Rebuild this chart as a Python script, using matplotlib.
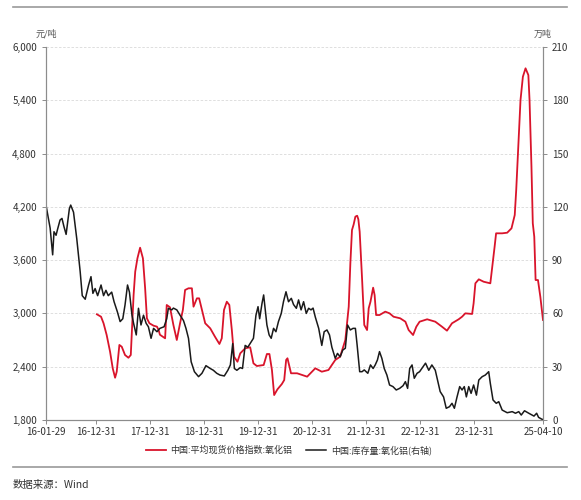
import numpy as np
import pandas as pd
import matplotlib
matplotlib.use("Agg")
from matplotlib import pyplot as plt
import matplotlib.dates as mdates

plt.rcParams['font.family'] = ['Noto Sans CJK SC', 'DejaVu Sans']

# 中国:库存量:氧化铝 (万吨, right axis)
stock_dates = [
    "2016-01-29", "2016-02-26", "2016-03-14", "2016-03-23", "2016-04-06", "2016-04-15",
    "2016-05-03", "2016-05-16", "2016-05-29", "2016-06-13", "2016-07-05", "2016-07-14",
    "2016-08-02", "2016-08-24", "2016-09-16", "2016-09-30", "2016-10-20", "2016-11-12",
    "2016-11-28", "2016-12-11", "2016-12-26", "2017-01-12", "2017-02-04", "2017-02-21",
    "2017-03-09", "2017-03-25", "2017-04-17", "2017-05-03", "2017-05-25", "2017-06-13",
    "2017-07-01", "2017-07-16", "2017-08-02", "2017-08-15", "2017-09-01", "2017-09-12",
    "2017-09-30", "2017-10-15", "2017-11-01", "2017-11-18", "2017-12-06", "2017-12-21",
    "2018-01-08", "2018-01-25", "2018-02-17", "2018-03-09", "2018-04-06", "2018-04-24",
    "2018-05-05", "2018-05-28", "2018-06-08", "2018-07-01", "2018-07-23", "2018-08-15",
    "2018-09-01", "2018-09-18", "2018-10-06", "2018-10-28", "2018-11-25", "2018-12-18",
    "2019-01-14", "2019-02-12", "2019-03-05", "2019-03-28", "2019-04-19", "2019-05-18",
    "2019-06-11", "2019-06-28", "2019-07-14", "2019-07-25", "2019-08-11", "2019-09-03",
    "2019-09-18", "2019-10-06", "2019-10-24", "2019-11-16", "2019-12-01", "2019-12-18",
    "2020-01-01", "2020-01-12", "2020-01-28", "2020-02-08", "2020-02-19", "2020-03-01",
    "2020-03-16", "2020-03-30", "2020-04-15", "2020-05-01", "2020-05-18", "2020-06-06",
    "2020-06-21", "2020-07-08", "2020-07-25", "2020-08-13", "2020-08-28", "2020-09-16",
    "2020-10-01", "2020-10-18", "2020-11-04", "2020-11-22", "2020-12-08", "2020-12-24",
    "2021-01-07", "2021-01-22", "2021-02-14", "2021-03-07", "2021-03-23", "2021-04-11",
    "2021-04-28", "2021-05-14", "2021-06-06", "2021-06-21", "2021-07-09", "2021-07-27",
    "2021-08-13", "2021-08-28", "2021-09-16", "2021-10-04", "2021-10-20", "2021-11-01",
    "2021-11-18", "2021-12-04", "2021-12-19", "2022-01-12", "2022-01-30", "2022-02-17",
    "2022-03-03", "2022-03-18", "2022-04-01", "2022-04-17", "2022-05-03", "2022-05-21",
    "2022-06-08", "2022-07-01", "2022-07-23", "2022-08-15", "2022-09-07", "2022-09-23",
    "2022-10-08", "2022-10-22", "2022-11-07", "2022-11-22", "2022-12-11", "2022-12-28",
    "2023-02-06", "2023-02-28", "2023-03-21", "2023-04-13", "2023-04-28", "2023-05-16",
    "2023-06-08", "2023-06-26", "2023-07-18", "2023-08-04", "2023-08-20", "2023-09-07",
    "2023-09-25", "2023-10-11", "2023-10-26", "2023-11-09", "2023-11-25", "2023-12-11",
    "2023-12-28", "2024-01-16", "2024-02-01", "2024-02-24", "2024-03-16", "2024-04-08",
    "2024-04-19", "2024-05-07", "2024-05-29", "2024-06-15", "2024-07-08", "2024-08-11",
    "2024-09-14", "2024-10-06", "2024-10-28", "2024-11-14", "2024-12-06", "2025-01-04",
    "2025-02-08", "2025-02-26", "2025-03-11", "2025-04-03", "2025-04-10",
]
stock_values = [
    121, 108, 93, 106, 104, 107,
    112.6, 113.5, 109, 104.5, 119, 121,
    117, 102, 83.5, 70, 68, 76,
    80.7, 71.3, 74, 70, 76, 70,
    73, 70, 72, 66.6, 61, 55.4,
    57, 64.7, 76, 72, 59, 54.4,
    47.9, 62.9, 53.5, 59, 54.4, 52.5,
    46, 51.6, 49.7, 51.6, 52.5, 57,
    62.9, 62, 63, 62, 59, 56,
    51.6, 46, 32.8, 27.2, 24.4, 26.3,
    30.6, 29, 28, 26.3, 25.3, 24.8,
    28, 31, 43, 29, 28, 29.5,
    29, 42, 41, 44, 46, 59,
    63.8, 57, 65.7, 70.4, 62, 53.5,
    47.9, 46, 51.6, 49.7, 55.4, 60,
    66.6, 72.2, 66.6, 68.5, 65, 62.9,
    67.6, 62, 66.6, 60, 62.9, 62,
    63, 58, 51.6, 42, 49.7, 50.7,
    47.9, 41, 34.7, 37.5, 35.6, 39.4,
    40.4, 53.5, 50.7, 51.6, 51.6, 42,
    27.2, 27.2, 28.2, 26.3, 31, 29,
    31, 33.8, 38.5, 34.7, 29, 25.3,
    19.7, 18.8, 16.9, 17.8, 19.3, 21.6,
    17.8, 29, 31, 23.5, 26.3, 27.2,
    32, 28, 31, 28, 22.5, 16,
    13, 6.6, 7.5, 9.4, 6.6, 13,
    18.8, 16.9, 18.8, 13, 18.8, 15,
    19.7, 14, 22.5, 24.4, 25.3, 27.2,
    20.6, 11.3, 9.4, 10.3, 5.6, 4.1,
    4.7, 3.8, 4.7, 2.8, 5.2, 3.8,
    2.2, 3.8, 1.5, 0.4, 0.3,
]

# 中国:平均现货价格指数:氧化铝 (元/吨, left axis)
price_dates = [
    "2017-01-07", "2017-02-04", "2017-02-21", "2017-03-14", "2017-04-06", "2017-04-24",
    "2017-05-10", "2017-05-21", "2017-06-08", "2017-06-24", "2017-07-16", "2017-08-08",
    "2017-08-24", "2017-09-12", "2017-09-23", "2017-10-08", "2017-10-26", "2017-11-14",
    "2017-11-29", "2017-12-11", "2017-12-28", "2018-01-25", "2018-02-17", "2018-02-28",
    "2018-03-09", "2018-04-13", "2018-04-24", "2018-05-16", "2018-06-08", "2018-07-01",
    "2018-07-23", "2018-08-11", "2018-08-26", "2018-09-18", "2018-10-11", "2018-10-22",
    "2018-11-14", "2018-11-29", "2018-12-18", "2019-01-09", "2019-02-12", "2019-03-16",
    "2019-04-15", "2019-05-01", "2019-05-16", "2019-06-04", "2019-06-21", "2019-07-08",
    "2019-07-23", "2019-08-15", "2019-09-03", "2019-10-06", "2019-11-09", "2019-12-01",
    "2019-12-24", "2020-02-08", "2020-03-01", "2020-03-18", "2020-04-04", "2020-04-19",
    "2020-05-11", "2020-06-10", "2020-06-26", "2020-07-09", "2020-07-18", "2020-08-11",
    "2020-09-21", "2020-11-28", "2021-01-22", "2021-03-07", "2021-04-21", "2021-06-06",
    "2021-07-09", "2021-08-13", "2021-09-05", "2021-09-16", "2021-09-27", "2021-10-08",
    "2021-10-20", "2021-11-01", "2021-11-09", "2021-11-18", "2021-12-04", "2021-12-19",
    "2022-01-07", "2022-01-18", "2022-01-30", "2022-02-17", "2022-02-27", "2022-03-09",
    "2022-04-01", "2022-05-10", "2022-06-08", "2022-07-05", "2022-08-19", "2022-09-23",
    "2022-10-15", "2022-11-14", "2022-12-06", "2022-12-28", "2023-02-17", "2023-04-13",
    "2023-05-28", "2023-07-01", "2023-08-04", "2023-09-18", "2023-10-11", "2023-11-02",
    "2023-12-18", "2023-12-28", "2024-01-09", "2024-02-01", "2024-03-05", "2024-04-19",
    "2024-05-05", "2024-05-18", "2024-05-28", "2024-07-08", "2024-08-11", "2024-09-09",
    "2024-10-01", "2024-10-11", "2024-10-24", "2024-11-09", "2024-11-25", "2024-12-13",
    "2025-01-01", "2025-01-09", "2025-01-22", "2025-01-31", "2025-02-10", "2025-02-19",
    "2025-03-07", "2025-03-23", "2025-04-10",
]
price_values = [
    2990, 2963, 2889, 2757, 2569, 2382,
    2276, 2344, 2645, 2625, 2532, 2501,
    2532, 3207, 3470, 3621, 3740, 3621,
    3283, 2945, 2889, 2862, 2851, 2813,
    2760, 2720, 3095, 3069, 2870, 2701,
    2889, 3039, 3264, 3283, 3283, 3076,
    3170, 3170, 3039, 2889, 2832, 2738,
    2656, 2720, 3039, 3132, 3095, 2813,
    2513, 2456, 2551, 2607, 2619, 2438,
    2408, 2419, 2543, 2543, 2363, 2081,
    2145, 2205, 2250, 2476, 2495, 2326,
    2326, 2288, 2382, 2344, 2363, 2476,
    2513, 2701, 3076, 3564, 3939, 4000,
    4090, 4100, 4060, 3920, 3395, 2870,
    2813, 3058, 3132, 3290, 3207, 2982,
    2982, 3020, 3001, 2963, 2945, 2907,
    2813, 2757, 2851, 2907, 2934, 2907,
    2851, 2806, 2889, 2934, 2963, 3001,
    2994, 3114, 3339, 3384, 3357, 3339,
    3564, 3752, 3902, 3902, 3909, 3958,
    4108, 4390, 4840, 5403, 5665, 5760,
    5684, 5403, 4652, 4015, 3864, 3376,
    3376, 3188, 2926,
]

tick_dates = ["2016-01-29", "2016-12-31", "2017-12-31", "2018-12-31", "2019-12-31",
              "2020-12-31", "2021-12-31", "2022-12-31", "2023-12-31", "2025-04-10"]
left_ticks = [1800, 2400, 3000, 3600, 4200, 4800, 5400, 6000]
right_ticks = [0, 30, 60, 90, 120, 150, 180, 210]

red = "#D9142B"
black = "#1A1A1A"
axis_gray = "#8C8C8C"
text_gray = "#333333"

fig = plt.figure(figsize=(5.81, 5.00), dpi=100)
ax = fig.add_axes([46 / 581, 80 / 500, 497 / 581, 373 / 500])
ax2 = ax.twinx()

p_dates = pd.to_datetime(price_dates)
s_dates = pd.to_datetime(stock_dates)

l1, = ax.plot(p_dates, price_values, color=red, lw=1.3, label="中国:平均现货价格指数:氧化铝")
l2, = ax2.plot(s_dates, stock_values, color=black, lw=1.1, label="中国:库存量:氧化铝(右轴)")

ax.set_ylim(1800, 6000)
ax2.set_ylim(0, 210)
ax.set_yticks(left_ticks)
ax.set_yticklabels([f"{v:,}" for v in left_ticks])
ax2.set_yticks(right_ticks)
ax.set_xlim(pd.Timestamp("2016-01-29"), pd.Timestamp("2025-04-10"))
ax.set_xticks(pd.to_datetime(tick_dates))
ax.xaxis.set_major_formatter(mdates.DateFormatter("%y-%m-%d"))

ax.grid(axis="y", color="#D9D9D9", ls=(0, (3, 2)), lw=0.6)
ax.set_axisbelow(True)

for a in (ax, ax2):
    a.spines["top"].set_visible(False)
    for s in ("left", "right", "bottom"):
        a.spines[s].set_color(axis_gray)
        a.spines[s].set_linewidth(0.8)
    a.tick_params(colors=text_gray, labelsize=7, length=3, width=0.7)
    a.tick_params(axis="both", color=axis_gray)
ax.tick_params(axis="x", pad=2)

fig.text(46 / 581, 1 - 34 / 500, "元/吨", ha="center", va="center", fontsize=6.5, color="#555555")
fig.text(543 / 581, 1 - 34 / 500, "万吨", ha="center", va="center", fontsize=6.5, color="#555555")

fig.legend(handles=[l1, l2], loc="center", bbox_to_anchor=(0.497, 1 - 450 / 500), ncol=2,
           frameon=False, fontsize=6.5, handlelength=2.2, columnspacing=1.6,
           handletextpad=0.5, labelcolor=text_gray)

# top and bottom separator lines
fig.add_artist(plt.Line2D([13 / 581, 567 / 581], [1 - 7 / 500, 1 - 7 / 500],
                          color="#999999", lw=1.2, transform=fig.transFigure))
fig.add_artist(plt.Line2D([13 / 581, 567 / 581], [1 - 467 / 500, 1 - 467 / 500],
                          color="#999999", lw=1.2, transform=fig.transFigure))
fig.text(13 / 581, 1 - 485 / 500, "数据来源：Wind", ha="left", va="center", fontsize=7.5, color=text_gray)

fig.savefig("out.png", dpi=100)
